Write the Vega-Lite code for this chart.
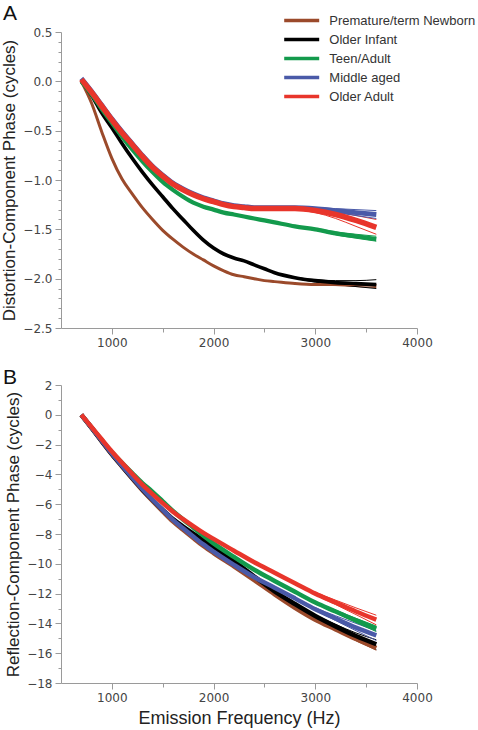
{
  "$schema": "https://vega.github.io/schema/vega-lite/v6.json",
  "background": "white",
  "padding": {"left": 0, "top": 3, "right": 0, "bottom": 2},
  "spacing": 19,
  "config": {
    "view": {"stroke": null},
    "axis": {
      "grid": false,
      "labelFont": "DejaVu Sans",
      "labelFontSize": 12,
      "labelColor": "#444",
      "domainColor": "#9a9a9a",
      "tickColor": "#9a9a9a",
      "titleFont": "Liberation Sans",
      "titleFontWeight": "normal",
      "titleColor": "#222",
      "titleFontSize": 17,
      "labelFlush": false,
      "labelOverlap": false
    },
    "title": {"font": "Liberation Sans", "fontSize": 21, "fontWeight": "normal", "anchor": "start", "color": "#111", "frame": "group"}
  },
  "datasets": {
    "distMain": [
      {"f": 700, "Premature/term Newborn": 0, "Older Infant": 0, "Teen/Adult": 0, "Middle aged": 0.03, "Older Adult": 0.02},
      {"f": 800, "Premature/term Newborn": -0.22, "Older Infant": -0.14, "Teen/Adult": -0.13, "Middle aged": -0.10, "Older Adult": -0.11},
      {"f": 900, "Premature/term Newborn": -0.51, "Older Infant": -0.32, "Teen/Adult": -0.28, "Middle aged": -0.24, "Older Adult": -0.25},
      {"f": 1000, "Premature/term Newborn": -0.78, "Older Infant": -0.47, "Teen/Adult": -0.42, "Middle aged": -0.38, "Older Adult": -0.39},
      {"f": 1100, "Premature/term Newborn": -0.99, "Older Infant": -0.63, "Teen/Adult": -0.56, "Middle aged": -0.51, "Older Adult": -0.52},
      {"f": 1200, "Premature/term Newborn": -1.14, "Older Infant": -0.78, "Teen/Adult": -0.69, "Middle aged": -0.63, "Older Adult": -0.64},
      {"f": 1300, "Premature/term Newborn": -1.28, "Older Infant": -0.92, "Teen/Adult": -0.81, "Middle aged": -0.75, "Older Adult": -0.76},
      {"f": 1400, "Premature/term Newborn": -1.40, "Older Infant": -1.05, "Teen/Adult": -0.92, "Middle aged": -0.86, "Older Adult": -0.87},
      {"f": 1500, "Premature/term Newborn": -1.51, "Older Infant": -1.17, "Teen/Adult": -1.02, "Middle aged": -0.95, "Older Adult": -0.96},
      {"f": 1600, "Premature/term Newborn": -1.60, "Older Infant": -1.29, "Teen/Adult": -1.10, "Middle aged": -1.03, "Older Adult": -1.04},
      {"f": 1700, "Premature/term Newborn": -1.68, "Older Infant": -1.40, "Teen/Adult": -1.17, "Middle aged": -1.09, "Older Adult": -1.10},
      {"f": 1800, "Premature/term Newborn": -1.75, "Older Infant": -1.51, "Teen/Adult": -1.23, "Middle aged": -1.14, "Older Adult": -1.15},
      {"f": 1900, "Premature/term Newborn": -1.81, "Older Infant": -1.61, "Teen/Adult": -1.27, "Middle aged": -1.18, "Older Adult": -1.19},
      {"f": 2000, "Premature/term Newborn": -1.87, "Older Infant": -1.69, "Teen/Adult": -1.30, "Middle aged": -1.21, "Older Adult": -1.22},
      {"f": 2100, "Premature/term Newborn": -1.92, "Older Infant": -1.75, "Teen/Adult": -1.33, "Middle aged": -1.24, "Older Adult": -1.25},
      {"f": 2200, "Premature/term Newborn": -1.96, "Older Infant": -1.79, "Teen/Adult": -1.35, "Middle aged": -1.26, "Older Adult": -1.27},
      {"f": 2300, "Premature/term Newborn": -1.98, "Older Infant": -1.82, "Teen/Adult": -1.37, "Middle aged": -1.27, "Older Adult": -1.28},
      {"f": 2400, "Premature/term Newborn": -2.00, "Older Infant": -1.86, "Teen/Adult": -1.39, "Middle aged": -1.28, "Older Adult": -1.29},
      {"f": 2500, "Premature/term Newborn": -2.02, "Older Infant": -1.90, "Teen/Adult": -1.41, "Middle aged": -1.28, "Older Adult": -1.29},
      {"f": 2600, "Premature/term Newborn": -2.03, "Older Infant": -1.94, "Teen/Adult": -1.43, "Middle aged": -1.28, "Older Adult": -1.29},
      {"f": 2800, "Premature/term Newborn": -2.05, "Older Infant": -1.99, "Teen/Adult": -1.47, "Middle aged": -1.28, "Older Adult": -1.29},
      {"f": 3000, "Premature/term Newborn": -2.06, "Older Infant": -2.02, "Teen/Adult": -1.50, "Middle aged": -1.29, "Older Adult": -1.31},
      {"f": 3200, "Premature/term Newborn": -2.06, "Older Infant": -2.04, "Teen/Adult": -1.54, "Middle aged": -1.31, "Older Adult": -1.35},
      {"f": 3400, "Premature/term Newborn": -2.06, "Older Infant": -2.05, "Teen/Adult": -1.57, "Middle aged": -1.33, "Older Adult": -1.41},
      {"f": 3600, "Premature/term Newborn": -2.07, "Older Infant": -2.06, "Teen/Adult": -1.60, "Middle aged": -1.35, "Older Adult": -1.48}
    ],
    "distSpread": [
      {"m": "hi", "f": 2600, "Premature/term Newborn": -2.03, "Older Infant": -1.94, "Teen/Adult": -1.43, "Middle aged": -1.28, "Older Adult": -1.29},
      {"m": "hi", "f": 2800, "Premature/term Newborn": -2.05, "Older Infant": -1.985, "Teen/Adult": -1.465, "Middle aged": -1.28, "Older Adult": -1.285},
      {"m": "hi", "f": 3000, "Premature/term Newborn": -2.055, "Older Infant": -2.01, "Teen/Adult": -1.49, "Middle aged": -1.28, "Older Adult": -1.29},
      {"m": "hi", "f": 3200, "Premature/term Newborn": -2.055, "Older Infant": -2.02, "Teen/Adult": -1.525, "Middle aged": -1.29, "Older Adult": -1.32},
      {"m": "hi", "f": 3400, "Premature/term Newborn": -2.055, "Older Infant": -2.02, "Teen/Adult": -1.55, "Middle aged": -1.30, "Older Adult": -1.36},
      {"m": "hi", "f": 3600, "Premature/term Newborn": -2.06, "Older Infant": -2.01, "Teen/Adult": -1.57, "Middle aged": -1.31, "Older Adult": -1.40},
      {"m": "lo", "f": 2600, "Premature/term Newborn": -2.03, "Older Infant": -1.94, "Teen/Adult": -1.43, "Middle aged": -1.28, "Older Adult": -1.29},
      {"m": "lo", "f": 2800, "Premature/term Newborn": -2.05, "Older Infant": -1.995, "Teen/Adult": -1.475, "Middle aged": -1.285, "Older Adult": -1.30},
      {"m": "lo", "f": 3000, "Premature/term Newborn": -2.065, "Older Infant": -2.035, "Teen/Adult": -1.51, "Middle aged": -1.30, "Older Adult": -1.33},
      {"m": "lo", "f": 3200, "Premature/term Newborn": -2.07, "Older Infant": -2.06, "Teen/Adult": -1.555, "Middle aged": -1.33, "Older Adult": -1.39},
      {"m": "lo", "f": 3400, "Premature/term Newborn": -2.08, "Older Infant": -2.08, "Teen/Adult": -1.59, "Middle aged": -1.36, "Older Adult": -1.47},
      {"m": "lo", "f": 3600, "Premature/term Newborn": -2.09, "Older Infant": -2.10, "Teen/Adult": -1.62, "Middle aged": -1.39, "Older Adult": -1.55}
    ],
    "reflMain": [
      {"f": 700, "Premature/term Newborn": 0, "Older Infant": 0, "Teen/Adult": 0, "Middle aged": 0, "Older Adult": 0},
      {"f": 800, "Premature/term Newborn": -0.88, "Older Infant": -0.87, "Teen/Adult": -0.84, "Middle aged": -0.86, "Older Adult": -0.82},
      {"f": 900, "Premature/term Newborn": -1.78, "Older Infant": -1.76, "Teen/Adult": -1.69, "Middle aged": -1.74, "Older Adult": -1.64},
      {"f": 1000, "Premature/term Newborn": -2.66, "Older Infant": -2.64, "Teen/Adult": -2.51, "Middle aged": -2.61, "Older Adult": -2.46},
      {"f": 1100, "Premature/term Newborn": -3.48, "Older Infant": -3.45, "Teen/Adult": -3.22, "Middle aged": -3.42, "Older Adult": -3.22},
      {"f": 1200, "Premature/term Newborn": -4.28, "Older Infant": -4.24, "Teen/Adult": -3.91, "Middle aged": -4.21, "Older Adult": -3.96},
      {"f": 1300, "Premature/term Newborn": -5.06, "Older Infant": -5.01, "Teen/Adult": -4.58, "Middle aged": -4.98, "Older Adult": -4.68},
      {"f": 1400, "Premature/term Newborn": -5.78, "Older Infant": -5.72, "Teen/Adult": -5.17, "Middle aged": -5.70, "Older Adult": -5.32},
      {"f": 1500, "Premature/term Newborn": -6.48, "Older Infant": -6.38, "Teen/Adult": -5.81, "Middle aged": -6.38, "Older Adult": -5.93},
      {"f": 1600, "Premature/term Newborn": -7.15, "Older Infant": -7.00, "Teen/Adult": -6.45, "Middle aged": -7.05, "Older Adult": -6.50},
      {"f": 1700, "Premature/term Newborn": -7.72, "Older Infant": -7.50, "Teen/Adult": -7.02, "Middle aged": -7.62, "Older Adult": -7.00},
      {"f": 1800, "Premature/term Newborn": -8.27, "Older Infant": -7.97, "Teen/Adult": -7.57, "Middle aged": -8.17, "Older Adult": -7.47},
      {"f": 1900, "Premature/term Newborn": -8.80, "Older Infant": -8.42, "Teen/Adult": -8.12, "Middle aged": -8.70, "Older Adult": -7.92},
      {"f": 2000, "Premature/term Newborn": -9.28, "Older Infant": -8.88, "Teen/Adult": -8.63, "Middle aged": -9.18, "Older Adult": -8.33},
      {"f": 2200, "Premature/term Newborn": -10.17, "Older Infant": -9.82, "Teen/Adult": -9.54, "Middle aged": -10.07, "Older Adult": -9.12},
      {"f": 2400, "Premature/term Newborn": -11.10, "Older Infant": -10.85, "Teen/Adult": -10.40, "Middle aged": -10.90, "Older Adult": -9.90},
      {"f": 2600, "Premature/term Newborn": -12.05, "Older Infant": -11.85, "Teen/Adult": -11.15, "Middle aged": -11.60, "Older Adult": -10.60},
      {"f": 2800, "Premature/term Newborn": -12.95, "Older Infant": -12.70, "Teen/Adult": -11.88, "Middle aged": -12.32, "Older Adult": -11.30},
      {"f": 3000, "Premature/term Newborn": -13.75, "Older Infant": -13.50, "Teen/Adult": -12.60, "Middle aged": -13.05, "Older Adult": -12.00},
      {"f": 3200, "Premature/term Newborn": -14.40, "Older Infant": -14.20, "Teen/Adult": -13.20, "Middle aged": -13.67, "Older Adult": -12.60},
      {"f": 3400, "Premature/term Newborn": -15.05, "Older Infant": -14.85, "Teen/Adult": -13.80, "Middle aged": -14.28, "Older Adult": -13.20},
      {"f": 3600, "Premature/term Newborn": -15.65, "Older Infant": -15.40, "Teen/Adult": -14.35, "Middle aged": -14.80, "Older Adult": -13.75}
    ],
    "reflSpread": [
      {"m": "hi", "f": 2600, "Premature/term Newborn": -12.05, "Older Infant": -11.85, "Teen/Adult": -11.15, "Middle aged": -11.60, "Older Adult": -10.60},
      {"m": "hi", "f": 2800, "Premature/term Newborn": -12.94, "Older Infant": -12.67, "Teen/Adult": -11.86, "Middle aged": -12.28, "Older Adult": -11.27},
      {"m": "hi", "f": 3000, "Premature/term Newborn": -13.71, "Older Infant": -13.43, "Teen/Adult": -12.55, "Middle aged": -12.95, "Older Adult": -11.91},
      {"m": "hi", "f": 3200, "Premature/term Newborn": -14.33, "Older Infant": -14.07, "Teen/Adult": -13.11, "Middle aged": -13.49, "Older Adult": -12.44},
      {"m": "hi", "f": 3400, "Premature/term Newborn": -14.95, "Older Infant": -14.64, "Teen/Adult": -13.66, "Middle aged": -14.00, "Older Adult": -12.96},
      {"m": "hi", "f": 3600, "Premature/term Newborn": -15.50, "Older Infant": -15.10, "Teen/Adult": -14.18, "Middle aged": -14.50, "Older Adult": -13.45},
      {"m": "lo", "f": 2600, "Premature/term Newborn": -12.05, "Older Infant": -11.85, "Teen/Adult": -11.15, "Middle aged": -11.60, "Older Adult": -10.60},
      {"m": "lo", "f": 2800, "Premature/term Newborn": -12.97, "Older Infant": -12.73, "Teen/Adult": -11.90, "Middle aged": -12.35, "Older Adult": -11.33},
      {"m": "lo", "f": 3000, "Premature/term Newborn": -13.79, "Older Infant": -13.58, "Teen/Adult": -12.65, "Middle aged": -13.13, "Older Adult": -12.08},
      {"m": "lo", "f": 3200, "Premature/term Newborn": -14.47, "Older Infant": -14.34, "Teen/Adult": -13.29, "Middle aged": -13.81, "Older Adult": -12.74},
      {"m": "lo", "f": 3400, "Premature/term Newborn": -15.16, "Older Infant": -15.06, "Teen/Adult": -13.94, "Middle aged": -14.49, "Older Adult": -13.41},
      {"m": "lo", "f": 3600, "Premature/term Newborn": -15.80, "Older Infant": -15.75, "Teen/Adult": -14.55, "Middle aged": -15.15, "Older Adult": -14.10}
    ]
  },
  "resolve": {"legend": {"color": "independent"}},
  "vconcat": [
    {
      "width": 356,
      "height": 296,
      "title": {"text": "A", "dx": -58, "offset": -11.5},
      "encoding": {
        "x": {
          "field": "f", "type": "quantitative",
          "scale": {"domain": [500, 4000], "nice": false, "zero": false},
          "axis": {
            "title": null,
            "values": [1000, 1500, 2000, 2500, 3000, 3500, 4000],
            "format": "d",
            "labelExpr": "datum.value % 1000 === 0 ? datum.label : ''",
            "tickSize": {"condition": {"test": "datum.value % 1000 === 0", "value": 6}, "value": 4},
            "labelPadding": 3
          }
        },
        "y": {
          "field": "v", "type": "quantitative",
          "scale": {"domain": [-2.5, 0.5], "nice": false, "zero": false},
          "axis": {
            "title": "Distortion-Component  Phase (cycles)",
            "values": [-2.5, -2.4, -2.3, -2.2, -2.1, -2.0, -1.9, -1.8, -1.7, -1.6, -1.5, -1.4, -1.3, -1.2, -1.1, -1.0, -0.9, -0.8, -0.7, -0.6, -0.5, -0.4, -0.3, -0.2, -0.1, 0.0, 0.1, 0.2, 0.3, 0.4, 0.5],
            "format": ".1f",
            "labelExpr": "abs(datum.value * 2 - round(datum.value * 2)) < 0.001 ? datum.label : ''",
            "tickSize": {"condition": {"test": "abs(datum.value * 2 - round(datum.value * 2)) < 0.001", "value": 6}, "value": 3},
            "labelPadding": 3,
            "titlePadding": 4
          }
        },
        "color": {
          "field": "g", "type": "nominal",
          "scale": {
            "domain": ["Premature/term Newborn", "Older Infant", "Teen/Adult", "Middle aged", "Older Adult"],
            "range": ["#9b4a2b", "#000000", "#139a4c", "#4a5aa8", "#e8352b"]
          },
          "legend": {
            "orient": "none",
            "legendX": 232.7,
            "legendY": -19.5,
            "title": null,
            "padding": 0,
            "symbolType": "M-3,0H3",
            "symbolSize": 136,
            "symbolStrokeWidth": 3.5,
            "labelOffset": 19.6,
            "labelFont": "Liberation Sans",
            "labelFontSize": 13,
            "labelColor": "#333",
            "rowPadding": 4
          }
        }
      },
      "layer": [
        {
          "data": {"name": "distSpread"},
          "transform": [{"fold": ["Premature/term Newborn", "Older Infant", "Teen/Adult", "Middle aged", "Older Adult"], "as": ["g", "v"]}],
          "mark": {"type": "line", "interpolate": "monotone", "strokeWidth": 1},
          "encoding": {"detail": {"field": "m", "type": "nominal"}}
        },
        {
          "data": {"name": "distMain"},
          "transform": [{"fold": ["Premature/term Newborn", "Older Infant", "Teen/Adult", "Middle aged", "Older Adult"], "as": ["g", "v"]}],
          "mark": {"type": "line", "interpolate": "monotone"},
          "encoding": {
            "strokeWidth": {
              "field": "g", "type": "nominal",
              "scale": {"domain": ["Premature/term Newborn", "Older Infant", "Teen/Adult", "Middle aged", "Older Adult"], "range": [3, 5.5, 3.5, 3.5, 4.5]},
              "legend": null
            }
          }
        }
      ]
    },
    {
      "width": 356,
      "height": 298,
      "title": {"text": "B", "dx": -58, "offset": -9},
      "encoding": {
        "x": {
          "field": "f", "type": "quantitative",
          "scale": {"domain": [500, 4000], "nice": false, "zero": false},
          "axis": {
            "title": "Emission Frequency (Hz)",
            "titleFontSize": 18,
            "titlePadding": 6,
            "values": [1000, 1500, 2000, 2500, 3000, 3500, 4000],
            "format": "d",
            "labelExpr": "datum.value % 1000 === 0 ? datum.label : ''",
            "tickSize": {"condition": {"test": "datum.value % 1000 === 0", "value": 6}, "value": 4},
            "labelPadding": 3
          }
        },
        "y": {
          "field": "v", "type": "quantitative",
          "scale": {"domain": [-18, 2], "nice": false, "zero": false},
          "axis": {
            "title": "Reflection-Component Phase (cycles)",
            "values": [-18, -17, -16, -15, -14, -13, -12, -11, -10, -9, -8, -7, -6, -5, -4, -3, -2, -1, 0, 1, 2],
            "format": "d",
            "labelExpr": "datum.value % 2 === 0 ? datum.label : ''",
            "tickSize": {"condition": {"test": "datum.value % 2 === 0", "value": 6}, "value": 3},
            "labelPadding": 3,
            "titlePadding": 4
          }
        },
        "color": {
          "field": "g", "type": "nominal",
          "scale": {
            "domain": ["Premature/term Newborn", "Older Infant", "Teen/Adult", "Middle aged", "Older Adult"],
            "range": ["#9b4a2b", "#000000", "#139a4c", "#4a5aa8", "#e8352b"]
          },
          "legend": null
        }
      },
      "layer": [
        {
          "data": {"name": "reflSpread"},
          "transform": [{"fold": ["Premature/term Newborn", "Older Infant", "Teen/Adult", "Middle aged", "Older Adult"], "as": ["g", "v"]}],
          "mark": {"type": "line", "interpolate": "monotone", "strokeWidth": 1},
          "encoding": {"detail": {"field": "m", "type": "nominal"}}
        },
        {
          "data": {"name": "reflMain"},
          "transform": [{"fold": ["Premature/term Newborn", "Older Infant", "Teen/Adult", "Middle aged", "Older Adult"], "as": ["g", "v"]}],
          "mark": {"type": "line", "interpolate": "monotone", "strokeWidth": 4.5}
        }
      ]
    }
  ]
}
